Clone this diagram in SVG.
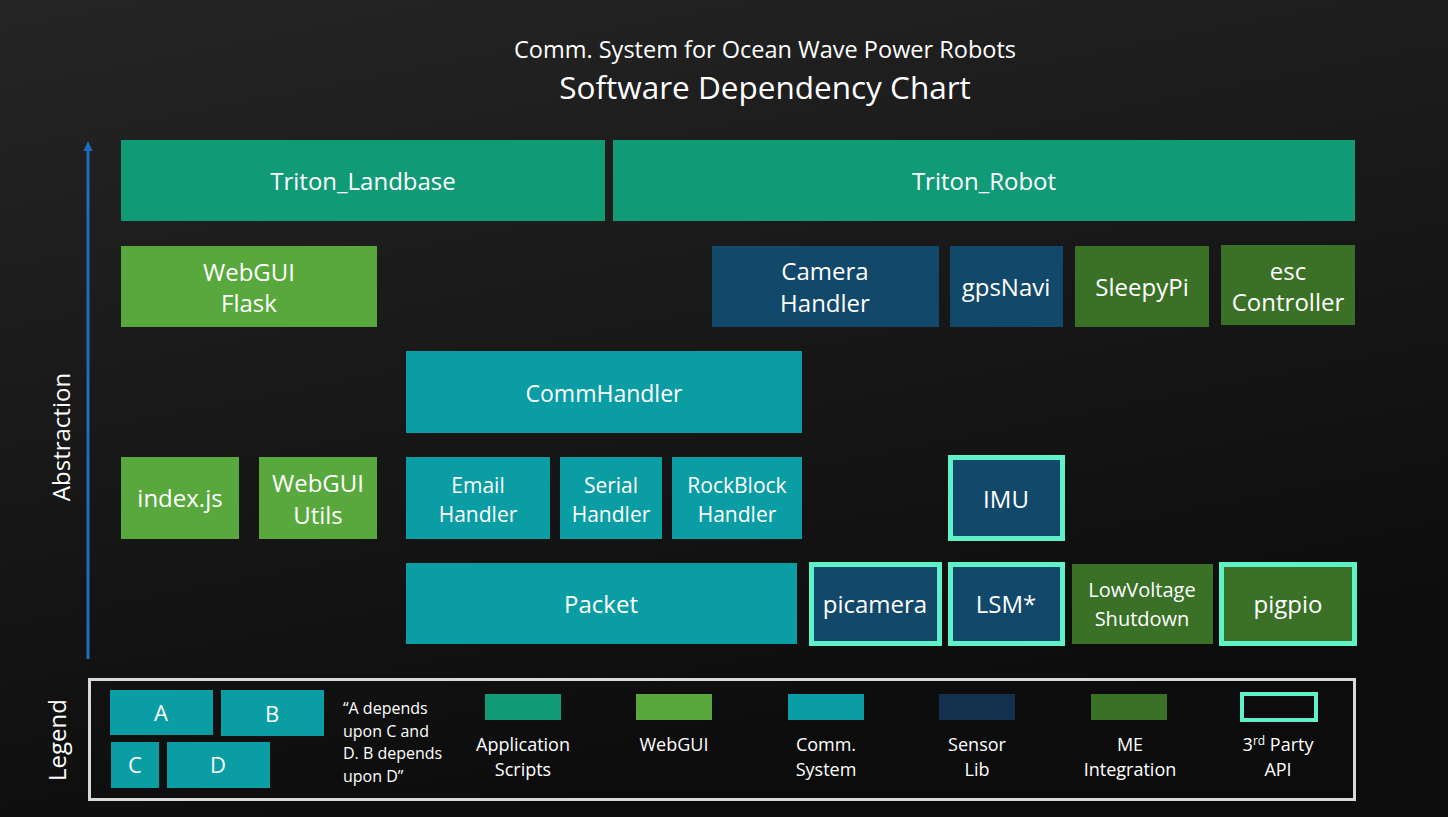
<svg xmlns="http://www.w3.org/2000/svg" width="1448" height="817" viewBox="0 0 1448 817">
<defs>
<linearGradient id="bg" x1="0" y1="0" x2="0.35" y2="1">
<stop offset="0" stop-color="#252525"/>
<stop offset="1" stop-color="#0c0c0c"/>
</linearGradient>
<marker id="ah" viewBox="0 0 10 10" refX="3" refY="5" markerWidth="10" markerHeight="10" markerUnits="userSpaceOnUse" orient="auto">
<path d="M0,0.5 L10,5 L0,9.5 Z" fill="#1B6EC2"/>
</marker>
<style>
text{font-family:"Open Sans","Noto Sans","Liberation Sans",sans-serif;fill:#ffffff;text-anchor:middle}
.app{fill:#109A76}
.web{fill:#58A83D}
.comm{fill:#0A9DA4}
.sens{fill:#12486A}
.sensl{fill:#13304F}
.me{fill:#3A7127}
.api{stroke:#5FF2C8;stroke-width:5}
.t24{font-size:24px}
.t23{font-size:23px}
.t21{font-size:21px}
.t20{font-size:20px}
.t22{font-size:22px}
.lg{font-size:18px}
.q{font-size:16px;text-anchor:start}
</style>
</defs>
<rect width="1448" height="817" fill="url(#bg)"/>

<g id="title">
<text x="765" y="58" style="font-size:23.5px">Comm. System for Ocean Wave Power Robots</text>
<text x="765" y="99" style="font-size:31.5px">Software Dependency Chart</text>
</g>

<g id="connectors">
<line x1="88" y1="659" x2="88" y2="148" stroke="#1B6EC2" stroke-width="3" marker-end="url(#ah)"/>
</g>
<g id="axis-label">
<text class="t24" transform="translate(70,437) rotate(-90)">Abstraction</text>
</g>

<g id="triton-landbase"><rect class="app" x="121" y="140" width="484" height="81"/><text class="t24" x="363" y="190">Triton_Landbase</text></g>
<g id="triton-robot"><rect class="app" x="613" y="140" width="742" height="81"/><text class="t24" x="984" y="190">Triton_Robot</text></g>

<g id="webgui-flask"><rect class="web" x="121" y="246" width="256" height="81"/><text class="t24" x="249" y="280.5">WebGUI</text><text class="t24" x="249" y="311.5">Flask</text></g>
<g id="camera-handler"><rect class="sens" x="712" y="246" width="227" height="81"/><text class="t24" x="825" y="280">Camera</text><text class="t24" x="825" y="311.5">Handler</text></g>
<g id="gpsnavi"><rect class="sens" x="950" y="246" width="113" height="81"/><text class="t24" x="1006" y="296">gpsNavi</text></g>
<g id="sleepypi"><rect class="me" x="1075" y="246" width="134" height="81"/><text class="t24" x="1142" y="296">SleepyPi</text></g>
<g id="esc-controller"><rect class="me" x="1221" y="245" width="134" height="80"/><text class="t24" x="1288" y="279.5">esc</text><text class="t24" x="1288" y="310.5">Controller</text></g>

<g id="commhandler"><rect class="comm" x="406" y="351" width="396" height="82"/><text class="t23" x="604" y="401.5">CommHandler</text></g>

<g id="index-js"><rect class="web" x="121" y="457" width="118" height="82"/><text class="t24" x="180" y="506.5">index.js</text></g>
<g id="webgui-utils"><rect class="web" x="259" y="457" width="118" height="82"/><text class="t24" x="318" y="491.5">WebGUI</text><text class="t24" x="318" y="523.5">Utils</text></g>
<g id="email-handler"><rect class="comm" x="406" y="457" width="144" height="82"/><text class="t21" x="478" y="492.5">Email</text><text class="t21" x="478" y="521.5">Handler</text></g>
<g id="serial-handler"><rect class="comm" x="560" y="457" width="102" height="82"/><text class="t21" x="611" y="492.5">Serial</text><text class="t21" x="611" y="521.5">Handler</text></g>
<g id="rockblock-handler"><rect class="comm" x="672" y="457" width="130" height="82"/><text class="t21" x="737" y="492.5">RockBlock</text><text class="t21" x="737" y="521.5">Handler</text></g>
<g id="imu"><rect class="sens api" x="950.5" y="457.5" width="112" height="81"/><text class="t24" x="1006" y="507.5">IMU</text></g>

<g id="packet"><rect class="comm" x="406" y="563" width="391" height="81"/><text class="t24" x="601" y="612.5">Packet</text></g>
<g id="picamera"><rect class="sens api" x="811.5" y="564.5" width="128" height="79"/><text class="t24" x="875" y="612.5">picamera</text></g>
<g id="lsm"><rect class="sens api" x="950.5" y="564.5" width="112" height="79"/><text class="t24" x="1006" y="612.5">LSM*</text></g>
<g id="lowvoltage-shutdown"><rect class="me" x="1072" y="564" width="141" height="80"/><text class="t20" x="1142" y="597">LowVoltage</text><text class="t20" x="1142" y="626">Shutdown</text></g>
<g id="pigpio"><rect class="me api" x="1221.5" y="564.5" width="133" height="79"/><text class="t24" x="1288" y="613">pigpio</text></g>

<g id="legend">
<rect x="89.5" y="679.5" width="1265" height="120" fill="none" stroke="#D9D9D9" stroke-width="3"/>
<text class="t24" transform="translate(66,740) rotate(-90)">Legend</text>
<rect class="comm" x="110" y="690" width="103" height="45"/><text class="t22" x="161" y="721">A</text>
<rect class="comm" x="221" y="690" width="103" height="46"/><text class="t22" x="272" y="722">B</text>
<rect class="comm" x="111" y="742" width="48" height="46"/><text class="t22" x="135" y="773">C</text>
<rect class="comm" x="167" y="742" width="103" height="46"/><text class="t22" x="218" y="773">D</text>
<text class="q" x="343" y="714">“A depends</text>
<text class="q" x="343" y="737">upon C and</text>
<text class="q" x="343" y="759">D. B depends</text>
<text class="q" x="343" y="782">upon D”</text>
<rect class="app" x="485" y="694" width="76" height="26"/>
<text class="lg" x="523" y="751">Application</text><text class="lg" x="523" y="776">Scripts</text>
<rect class="web" x="636" y="694" width="76" height="26"/>
<text class="lg" x="674" y="751">WebGUI</text>
<rect class="comm" x="788" y="694" width="76" height="26"/>
<text class="lg" x="826" y="751">Comm.</text><text class="lg" x="826" y="776">System</text>
<rect class="sensl" x="939" y="694" width="76" height="26"/>
<text class="lg" x="977" y="751">Sensor</text><text class="lg" x="977" y="776">Lib</text>
<rect class="me" x="1091" y="694" width="76" height="26"/>
<text class="lg" x="1130" y="751">ME</text><text class="lg" x="1130" y="776">Integration</text>
<rect x="1242" y="694" width="74" height="26" fill="none" stroke="#5FF2C8" stroke-width="4"/>
<text class="lg" x="1278" y="751">3<tspan font-size="12" dy="-6">rd</tspan><tspan dy="6"> Party</tspan></text><text class="lg" x="1278" y="776">API</text>
</g>
</svg>
